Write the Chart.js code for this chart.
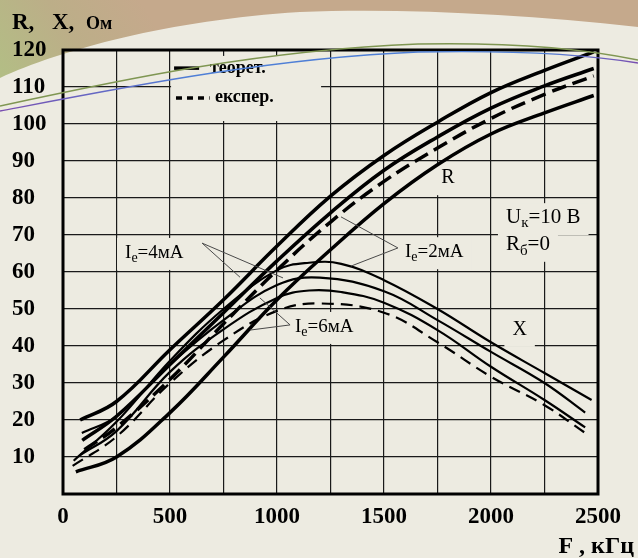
<!DOCTYPE html>
<html lang="ru">
<head>
<meta charset="UTF-8">
<title>R, X, Ом — F, кГц</title>
<style>
  html, body { margin: 0; padding: 0; background: #edebe1; }
  .wrap { width: 638px; height: 558px; position: relative; }
</style>
</head>
<body>
<div class="wrap"><canvas id="chart"></canvas></div>
<script src="https://cdn.jsdelivr.net/npm/chart.js@4"></script>
<script>
// частота F, кГц, и сопротивления R, X, Ом
const fR1 = [80, 250, 500, 750, 1000, 1250, 1500, 1750, 2000, 2250, 2480];
const r1  = [20, 25, 39, 52.5, 67, 80.5, 91.5, 100.5, 108.5, 114.5, 119.5];
const fR2 = [90, 250, 500, 750, 1000, 1250, 1500, 1750, 2000, 2250, 2480];
const r2  = [14.5, 21, 35, 49, 63, 76, 87.5, 96.5, 104.3, 110.3, 115];
const fR3 = [100, 250, 500, 750, 1000, 1250, 1500, 1750, 2000, 2250, 2480];
const r3  = [12, 18, 31, 46, 60.5, 73.5, 84.5, 93.5, 101.5, 108, 113];   // эксперимент
const fR4 = [60, 250, 500, 750, 1000, 1250, 1500, 1750, 2000, 2250, 2480];
const r4  = [6, 10, 22, 37, 52.5, 66, 78.5, 89, 97.3, 103, 107.7];

const fX1 = [50, 250, 500, 750, 1000, 1150, 1300, 1500, 1750, 2000, 2250, 2470];
const x1  = [9, 19.5, 36, 50, 60.5, 62.5, 62.2, 57.8, 50, 41, 32.7, 25.4];
const fX2 = [88, 250, 500, 750, 1000, 1200, 1500, 1750, 2000, 2250, 2440];
const x2  = [16.5, 21, 35, 47, 56.5, 58.5, 54.8, 47, 38.4, 30, 22];
const fX3 = [80, 250, 500, 750, 1000, 1150, 1300, 1500, 1750, 2000, 2250, 2440];
const x3  = [10.5, 17, 33, 44.5, 53, 55, 54.6, 51.7, 44.3, 34.4, 25.4, 18];
const fX4 = [45, 250, 500, 750, 1000, 1200, 1500, 1750, 2000, 2250, 2440];
const x4  = [7.6, 15.5, 30, 41.5, 49.5, 51.5, 49, 41, 31.7, 24, 16.5]; // эксперимент

const yMax = 120, yStep = 10;
const xMax = 2500, xStep = 250, xLabelStep = 500;

const pts = (f, v) => f.map((x, i) => ({ x: x, y: v[i] }));

function curve(f, v, width, dash) {
    return {
        data: pts(f, v),
        borderColor: '#000',
        borderWidth: width,
        borderDash: dash || [],
        pointRadius: 0,
        fill: false,
        tension: 0.4
    };
}

const serif = "'Liberation Serif', 'Times New Roman', serif";

// подписи внутри поля графика (в координатах данных)
const notes = [
    { parts: [['I', 19], ['е', 14, 4], ['=4мА', 19]], f: 290, v: 63.8 },
    { parts: [['I', 19], ['е', 14, 4], ['=2мА', 19]], f: 1598, v: 64 },
    { parts: [['I', 19], ['е', 14, 4], ['=6мА', 19]], f: 1084, v: 43.8 },
    { parts: [['U', 21], ['к', 15, 4], ['=10 В', 21]], f: 2070, v: 73.2 },
    { parts: [['R', 21], ['б', 15, 5], ['=0', 21]], f: 2070, v: 66 },
    { parts: [['R', 20]], f: 1768, v: 84 },
    { parts: [['X', 20]], f: 2100, v: 43 }
];
// выноски: от подписи к кривым
const leaders = [
    [650, 67.8, 827, 58.6], [650, 67.8, 1028, 58.4],
    [1565, 66.5, 1299, 74.9], [1565, 66.5, 1346, 61.6],
    [1061, 45.7, 874, 44.3], [1061, 45.7, 920, 53]
];

function partsWidth(ctx, parts) {
    let w = 0;
    parts.forEach(p => { ctx.font = p[1] + 'px ' + serif; w += ctx.measureText(p[0]).width; });
    return w;
}

const decor = {
    id: 'decor',
    beforeDraw(chart) {
        const ctx = chart.ctx;
        ctx.save();
        ctx.fillStyle = '#edebe1';
        ctx.fillRect(0, 0, chart.width, chart.height);
        // верхняя полоса фона слайда
        const g = ctx.createLinearGradient(10, 85, 140, 0);
        g.addColorStop(0, '#b3bd85');
        g.addColorStop(0.5, '#bcae88');
        g.addColorStop(1, '#c5a98c');
        ctx.fillStyle = g;
        ctx.beginPath();
        ctx.moveTo(0, 0);
        ctx.lineTo(638, 0);
        ctx.lineTo(638, 27);
        ctx.bezierCurveTo(520, 14, 400, 8, 300, 12);
        ctx.bezierCurveTo(170, 20, 60, 50, 0, 78);
        ctx.closePath();
        ctx.fill();
        ctx.restore();
    },
    beforeDatasetsDraw(chart) {
        const ctx = chart.ctx, xs = chart.scales.x, ys = chart.scales.y;
        ctx.save();
        ctx.fillStyle = '#edebe1';
        // фон легенды
        const lx0 = xs.getPixelForValue(505), lx1 = xs.getPixelForValue(1206);
        const ly0 = ys.getPixelForValue(118.4), ly1 = ys.getPixelForValue(100.8);
        ctx.fillRect(lx0, ly0, lx1 - lx0, ly1 - ly0);
        // фон подписей
        notes.forEach(n => {
            const x = xs.getPixelForValue(n.f), y = ys.getPixelForValue(n.v);
            const w = partsWidth(ctx, n.parts);
            ctx.fillRect(x - 8, y - 20, w + 16, 32);
        });
        ctx.restore();
    },
    afterDatasetsDraw(chart) {
        const ctx = chart.ctx, xs = chart.scales.x, ys = chart.scales.y, a = chart.chartArea;
        ctx.save();
        // выноски
        ctx.strokeStyle = '#4a4a4a';
        ctx.lineWidth = 1;
        leaders.forEach(l => {
            ctx.beginPath();
            ctx.moveTo(xs.getPixelForValue(l[0]), ys.getPixelForValue(l[1]));
            ctx.lineTo(xs.getPixelForValue(l[2]), ys.getPixelForValue(l[3]));
            ctx.stroke();
        });
        // подписи
        ctx.fillStyle = '#000';
        ctx.textBaseline = 'alphabetic';
        ctx.textAlign = 'left';
        notes.forEach(n => {
            let x = xs.getPixelForValue(n.f);
            const y = ys.getPixelForValue(n.v);
            n.parts.forEach(p => {
                ctx.font = p[1] + 'px ' + serif;
                ctx.fillText(p[0], x, y + (p[2] || 0));
                x += ctx.measureText(p[0]).width;
            });
        });
        // легенда
        ctx.strokeStyle = '#000';
        ctx.lineWidth = 3.5;
        let y = ys.getPixelForValue(115.1);
        ctx.beginPath();
        ctx.moveTo(xs.getPixelForValue(519), y);
        ctx.lineTo(xs.getPixelForValue(636), y);
        ctx.stroke();
        y = ys.getPixelForValue(107);
        ctx.setLineDash([6, 5]);
        ctx.beginPath();
        ctx.moveTo(xs.getPixelForValue(528), y);
        ctx.lineTo(xs.getPixelForValue(685), y);
        ctx.stroke();
        ctx.setLineDash([]);
        ctx.font = 'bold 18px ' + serif;
        ctx.textBaseline = 'middle';
        ctx.fillText('теорет.', xs.getPixelForValue(687), ys.getPixelForValue(115.1));
        ctx.fillText('експер.', xs.getPixelForValue(710), ys.getPixelForValue(107.3));
        // рамка поля
        ctx.lineWidth = 3;
        ctx.strokeRect(a.left, a.top, a.right - a.left, a.bottom - a.top);
        ctx.restore();
    },
    afterDraw(chart) {
        const ctx = chart.ctx;
        ctx.save();
        // декоративные линии шаблона
        ctx.lineWidth = 1.6;
        ctx.strokeStyle = '#7f9652';
        ctx.beginPath();
        ctx.moveTo(0, 106);
        ctx.bezierCurveTo(120, 80, 260, 50, 418, 44);
        ctx.bezierCurveTo(520, 42, 590, 50, 638, 60);
        ctx.stroke();
        const gb = ctx.createLinearGradient(0, 0, 638, 0);
        gb.addColorStop(0, '#7a4fb0');
        gb.addColorStop(0.3, '#4f7fd6');
        gb.addColorStop(0.85, '#4f7fd6');
        gb.addColorStop(1, '#7a4fb0');
        ctx.strokeStyle = gb;
        ctx.lineWidth = 1.3;
        ctx.beginPath();
        ctx.moveTo(0, 111);
        ctx.bezierCurveTo(120, 88, 270, 58, 418, 52);
        ctx.bezierCurveTo(520, 50, 590, 55, 638, 63);
        ctx.stroke();
        // заголовки осей
        ctx.fillStyle = '#000';
        ctx.textBaseline = 'alphabetic';
        ctx.textAlign = 'left';
        ctx.font = 'bold 23px ' + serif;
        ctx.fillText('R,', 12, 29);
        ctx.fillText('X,', 52, 29);
        ctx.font = 'bold 18px ' + serif;
        ctx.fillText('Ом', 86, 29);
        ctx.font = 'bold 24px ' + serif;
        ctx.textAlign = 'right';
        ctx.fillText('F , кГц', 634, 553);
        ctx.restore();
    }
};

new Chart(document.getElementById('chart'), {
    type: 'line',
    data: {
        datasets: [
            curve(fR1, r1, 3.5), curve(fR2, r2, 3.5), curve(fR3, r3, 3.5, [15, 7]), curve(fR4, r4, 3.5),
            curve(fX1, x1, 2.2), curve(fX2, x2, 2.2), curve(fX3, x3, 2.2), curve(fX4, x4, 2.2, [12, 7])
        ]
    },
    options: {
        responsive: true,
        maintainAspectRatio: false,
        animation: false,
        layout: { padding: { left: 12, top: 50, right: 40, bottom: 0 } },
        plugins: { legend: { display: false }, tooltip: { enabled: false } },
        scales: {
            x: {
                type: 'linear', min: 0, max: xMax,
                afterFit: s => { s.height = 64; },
                grid: { color: '#1a1a1a', lineWidth: 1.2, drawTicks: false },
                border: { display: false },
                ticks: {
                    stepSize: xStep, padding: 9, maxRotation: 0, autoSkip: false,
                    color: '#000', font: { family: serif, size: 23, weight: 'bold' },
                    callback: v => (v % xLabelStep === 0 ? v : '')
                }
            },
            y: {
                min: 0, max: yMax,
                afterFit: s => { s.width = 51; },
                grid: { color: '#1a1a1a', lineWidth: 1.2, drawTicks: false },
                border: { display: false },
                ticks: {
                    stepSize: yStep, crossAlign: 'far', padding: 6,
                    color: '#000', font: { family: serif, size: 23, weight: 'bold' },
                    callback: v => (v === 0 ? '' : v)
                }
            }
        }
    },
    plugins: [decor]
});
</script>
</body>
</html>
